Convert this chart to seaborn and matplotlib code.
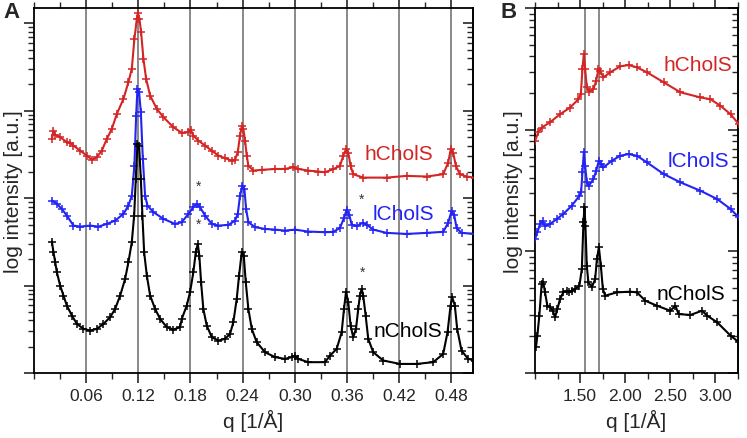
import numpy as np
import pandas as pd
import matplotlib
matplotlib.use("Agg")
import matplotlib.pyplot as plt
import seaborn as sns
from matplotlib.ticker import LogLocator, NullFormatter, FixedLocator, MultipleLocator

sns.set_theme(style="ticks")
plt.rcParams['font.family'] = ['Liberation Sans', 'DejaVu Sans']

# ---------------- Panel A data (q in 1/Å, intensity a.u.) ----------------
qA_h = [0.0206, 0.0224, 0.0244, 0.0301, 0.0378, 0.0416, 0.0454, 0.0531, 0.0608, 0.0666,
        0.0723, 0.0780, 0.0838, 0.0895, 0.0953, 0.1029, 0.1086, 0.1125, 0.1155, 0.1183,
        0.1194, 0.1213, 0.1232, 0.1259, 0.1290, 0.1336, 0.1413, 0.1489, 0.1603, 0.1700,
        0.1776, 0.1803, 0.1833, 0.1891, 0.1968, 0.2045, 0.2121, 0.2198, 0.2275, 0.2313,
        0.2344, 0.2370, 0.2390, 0.2408, 0.2428, 0.2447, 0.2466, 0.2523, 0.2620, 0.2772,
        0.2887, 0.2983, 0.3040, 0.3155, 0.3270, 0.3347, 0.3443, 0.3520, 0.3557, 0.3589,
        0.3615, 0.3642, 0.3672, 0.3787, 0.4056, 0.4286, 0.4516, 0.4707, 0.4764, 0.4795,
        0.4822, 0.4853, 0.4899, 0.4976, 0.5071]
IA_h = [477, 594, 530, 499, 437, 429, 400, 350, 307, 276,
        294, 350, 477, 621, 921, 1368, 2125, 3016, 6647, 11260,
        13190, 11260, 7931, 3925, 2317, 1493, 1051, 845, 649, 559,
        569, 609, 520, 456, 400, 350, 307, 287, 269, 276,
        336, 520, 666, 621, 456, 307, 236, 207, 211, 216,
        216, 226, 216, 207, 202, 198, 215, 234, 305, 364,
        332, 234, 188, 172, 172, 180, 177, 188, 255, 364,
        332, 234, 188, 177, 172]

qA_l = [0.0206, 0.0263, 0.0320, 0.0378, 0.0454, 0.0531, 0.0646, 0.0741, 0.0838, 0.0933,
        0.1029, 0.1086, 0.1125, 0.1155, 0.1175, 0.1190, 0.1209, 0.1229, 0.1252, 0.1278,
        0.1305, 0.1374, 0.1489, 0.1623, 0.1700, 0.1776, 0.1833, 0.1872, 0.1910, 0.1968,
        0.2045, 0.2121, 0.2236, 0.2313, 0.2344, 0.2370, 0.2397, 0.2420, 0.2440, 0.2466,
        0.2543, 0.2657, 0.2772, 0.2887, 0.3002, 0.3155, 0.3347, 0.3443, 0.3520, 0.3566,
        0.3597, 0.3626, 0.3654, 0.3711, 0.3780, 0.3826, 0.3902, 0.4056, 0.4286, 0.4516,
        0.4707, 0.4764, 0.4803, 0.4833, 0.4861, 0.4918, 0.5071]
IA_l = [93.9, 86.1, 75.4, 63.2, 48.6, 47.3, 48.6, 47.3, 50.8, 55.4,
        66.1, 82.3, 107, 236, 881, 1781, 1632, 964, 282, 107,
        82.3, 69.2, 58.0, 50.8, 53.1, 66.1, 78.9, 86.1, 78.9, 63.2,
        50.8, 48.6, 49.5, 55.4, 66.1, 107, 139, 128, 75.4, 53.1,
        46.6, 44.5, 43.7, 42.6, 43.7, 41.5, 40.8, 41.2, 45.7, 59.5,
        74.1, 64.9, 49.9, 47.8, 52.2, 49.9, 43.7, 40.1, 39.0, 40.1,
        41.2, 52.2, 71.0, 64.9, 45.7, 40.1, 39.0]

qA_n = [0.0206, 0.0224, 0.0244, 0.0263, 0.0301, 0.0339, 0.0378, 0.0436, 0.0493, 0.0569,
        0.0646, 0.0723, 0.0799, 0.0876, 0.0933, 0.0991, 0.1048, 0.1086, 0.1125, 0.1152,
        0.1171, 0.1190, 0.1209, 0.1229, 0.1247, 0.1267, 0.1298, 0.1336, 0.1393, 0.1451,
        0.1528, 0.1603, 0.1680, 0.1700, 0.1757, 0.1795, 0.1833, 0.1861, 0.1884, 0.1902,
        0.1922, 0.1948, 0.1987, 0.2045, 0.2121, 0.2198, 0.2255, 0.2293, 0.2332, 0.2359,
        0.2390, 0.2413, 0.2436, 0.2466, 0.2505, 0.2562, 0.2657, 0.2772, 0.2887, 0.2964,
        0.3002, 0.3040, 0.3155, 0.3347, 0.3405, 0.3482, 0.3539, 0.3566, 0.3589, 0.3615,
        0.3642, 0.3672, 0.3704, 0.3730, 0.3749, 0.3769, 0.3787, 0.3815, 0.3845, 0.3902,
        0.4017, 0.4209, 0.4401, 0.4592, 0.4707, 0.4757, 0.4792, 0.4811, 0.4841, 0.4868,
        0.4918, 0.4995, 0.5071]
IA_n = [31.9, 24.1, 18.5, 14.2, 10.0, 7.69, 5.90, 4.54, 3.65, 3.20,
        3.06, 3.20, 3.65, 4.35, 5.41, 7.69, 11.9, 18.5, 31.4, 63.2,
        166, 418, 400, 166, 63.2, 24.1, 13.0, 7.69, 5.41, 4.16,
        3.34, 3.14, 3.34, 4.16, 5.90, 8.41, 14.2, 24.1, 30.0, 22.0,
        10.9, 5.41, 3.49, 2.57, 2.35, 2.46, 2.80, 3.81, 7.04, 13.0,
        24.1, 22.0, 10.9, 5.41, 3.20, 2.25, 1.73, 1.52, 1.45, 1.52,
        1.58, 1.45, 1.33, 1.33, 1.58, 1.89, 2.93, 5.41, 8.41, 6.46,
        3.49, 2.57, 3.20, 5.41, 7.69, 9.17, 7.69, 4.54, 2.46, 1.73,
        1.39, 1.27, 1.27, 1.33, 1.65, 2.93, 5.90, 7.37, 5.90, 3.20,
        1.80, 1.45, 1.39]

# ---------------- Panel B data ----------------
qB_h = [1.000, 1.037, 1.074, 1.167, 1.278, 1.389, 1.481, 1.508, 1.526, 1.541,
        1.556, 1.574, 1.603, 1.648, 1.678, 1.703, 1.722, 1.759, 1.833, 1.944,
        2.037, 2.130, 2.241, 2.426, 2.611, 2.833, 2.944, 3.056, 3.167, 3.259]
IB_h = [81.1, 95.0, 104, 115, 134, 152, 178, 196, 315, 418,
        315, 223, 205, 216, 252, 315, 305, 269, 296, 331,
        340, 325, 296, 245, 203, 184, 178, 157, 134, 111]

qB_l = [1.000, 1.026, 1.056, 1.086, 1.111, 1.167, 1.241, 1.314, 1.408, 1.492,
        1.511, 1.526, 1.541, 1.556, 1.574, 1.597, 1.648, 1.678, 1.708, 1.730,
        1.759, 1.852, 1.944, 2.037, 2.130, 2.241, 2.426, 2.611, 2.833, 3.019,
        3.167, 3.259]
IB_l = [12.6, 14.3, 16.8, 17.8, 16.2, 16.8, 18.4, 20.3, 23.7, 28.6,
        30.5, 44.6, 65.1, 50.5, 36.9, 34.6, 39.3, 45.9, 55.5, 52.2,
        49.0, 55.5, 61.0, 63.0, 61.0, 53.8, 43.2, 36.9, 31.5, 26.9,
        22.3, 19.0]

qB_n = [1.011, 1.026, 1.048, 1.074, 1.092, 1.111, 1.137, 1.167, 1.197, 1.222,
        1.248, 1.278, 1.314, 1.352, 1.381, 1.408, 1.444, 1.492, 1.519, 1.537,
        1.548, 1.559, 1.574, 1.592, 1.630, 1.667, 1.686, 1.708, 1.730, 1.752,
        1.778, 1.908, 2.056, 2.130, 2.222, 2.352, 2.500, 2.556, 2.592, 2.722,
        2.852, 2.908, 3.019, 3.167, 3.259]
IB_n = [1.63, 2.03, 2.96, 5.39, 5.56, 4.60, 3.57, 3.47, 3.25, 2.87,
        3.36, 4.06, 4.60, 4.75, 4.60, 4.75, 4.90, 5.22, 7.15, 17.3,
        23.0, 16.2, 7.62, 5.56, 5.06, 5.92, 8.64, 10.8, 7.62, 4.90,
        4.32, 4.60, 4.66, 4.60, 3.93, 3.57, 3.25, 3.57, 3.05, 3.00,
        3.25, 2.96, 2.61, 2.03, 1.79]

series_names = ["hCholS", "lCholS", "nCholS"]
colors = ["#d42424", "#2323f5", "#000000"]

vlines_A = [0.06, 0.12, 0.18, 0.24, 0.30, 0.36, 0.42, 0.48]
vlines_B = [1.55, 1.71]
xticks_A = [0.06, 0.12, 0.18, 0.24, 0.30, 0.36, 0.42, 0.48]
xticks_B = [1.50, 2.00, 2.50, 3.00]

# star annotations (q, intensity)
starsA_q = [0.189, 0.189, 0.377, 0.378]
starsA_I = [137, 50.8, 98, 14.4]

# label positions
labA_q = [0.420, 0.4255, 0.430]
labA_I = [321, 66.1, 3.03]
labB_q = [2.806, 2.817, 2.733]
labB_I = [343, 55.7, 4.50]

W, H = 747, 439
fig = plt.figure(figsize=(W / 100, H / 100), dpi=100)
axA = fig.add_axes([34 / W, 1 - 374 / H, (473 - 34) / W, (374 - 9) / H])
axB = fig.add_axes([535 / W, 1 - 374 / H, (738 - 535) / W, (374 - 9) / H])

def draw(ax, data, vl):
    for v in vl:
        ax.axvline(v, color="#808080", lw=1.3, zorder=1)
    for (q, I), c in zip(data, colors):
        df = pd.DataFrame({"q": q, "I": I})
        sns.lineplot(data=df, x="q", y="I", ax=ax, color=c, marker="+", markersize=5.5,
                     markeredgewidth=1.1, markeredgecolor=c, linewidth=1.5,
                     sort=False, estimator=None, zorder=3)

draw(axA, [(qA_h, IA_h), (qA_l, IA_l), (qA_n, IA_n)], vlines_A)
draw(axB, [(qB_h, IB_h), (qB_l, IB_l), (qB_n, IB_n)], vlines_B)

for ax in (axA, axB):
    ax.set_yscale("log")
    ax.yaxis.set_major_locator(LogLocator(base=10))
    ax.yaxis.set_minor_locator(LogLocator(base=10, subs=np.arange(2, 10)))
    ax.yaxis.set_major_formatter(NullFormatter())
    ax.yaxis.set_minor_formatter(NullFormatter())
    for s in ax.spines.values():
        s.set_linewidth(1.3)
        s.set_color("black")
        s.set_visible(True)
    ax.tick_params(axis="x", which="both", top=True, direction="out", labelsize=12.5, pad=4)
    ax.tick_params(axis="x", which="major", length=7, width=1.2)
    ax.tick_params(axis="x", which="minor", length=4, width=1.0)
    ax.tick_params(axis="y", which="major", left=True, right=False, direction="out", length=7, width=1.2)
    ax.tick_params(axis="y", which="minor", left=True, right=False, direction="out", length=4, width=1.0)
    ax.set_xlabel("q [1/Å]", fontsize=15)
    ax.set_ylabel("log intensity [a.u.]", fontsize=15)
    sec = ax.secondary_yaxis("right")
    sec.yaxis.set_major_locator(LogLocator(base=10))
    sec.yaxis.set_minor_locator(LogLocator(base=10, subs=np.arange(2, 10)))
    sec.yaxis.set_major_formatter(NullFormatter())
    sec.yaxis.set_minor_formatter(NullFormatter())
    sec.tick_params(axis="y", which="major", direction="in", length=7, width=1.2)
    sec.tick_params(axis="y", which="minor", direction="in", length=4, width=1.0)
    sec.spines["right"].set_linewidth(1.3)

axA.set_xlim(0.0, 0.505)
axA.set_ylim(1, 15000)
axA.xaxis.set_major_locator(FixedLocator(xticks_A))
axA.xaxis.set_minor_locator(MultipleLocator(0.03))
axA.set_xticklabels([f"{t:.2f}" for t in xticks_A])
axA.yaxis.set_label_coords((23 - 34) / (473 - 34), 0.5)

axB.set_xlim(1.0, 3.25)
axB.set_ylim(1, 1000)
axB.xaxis.set_major_locator(FixedLocator(xticks_B))
axB.xaxis.set_minor_locator(MultipleLocator(0.25))
axB.set_xticklabels([f"{t:.2f}" for t in xticks_B])
axB.yaxis.set_label_coords((523 - 535) / (738 - 535), 0.5)

for q, I in zip(starsA_q, starsA_I):
    axA.text(q, I, "*", ha="center", va="center", fontsize=10, color="#333333")

for name, c, q, I in zip(series_names, colors, labA_q, labA_I):
    axA.text(q, I, name, color=c, ha="center", va="center", fontsize=15)
for name, c, q, I in zip(series_names, colors, labB_q, labB_I):
    axB.text(q, I, name, color=c, ha="center", va="center", fontsize=15)

fig.text(3 / W, 1 - 12 / H, "A", fontsize=16, fontweight="bold", va="center", ha="left")
fig.text(500 / W, 1 - 12 / H, "B", fontsize=16, fontweight="bold", va="center", ha="left")

fig.savefig("out.png", dpi=100)
